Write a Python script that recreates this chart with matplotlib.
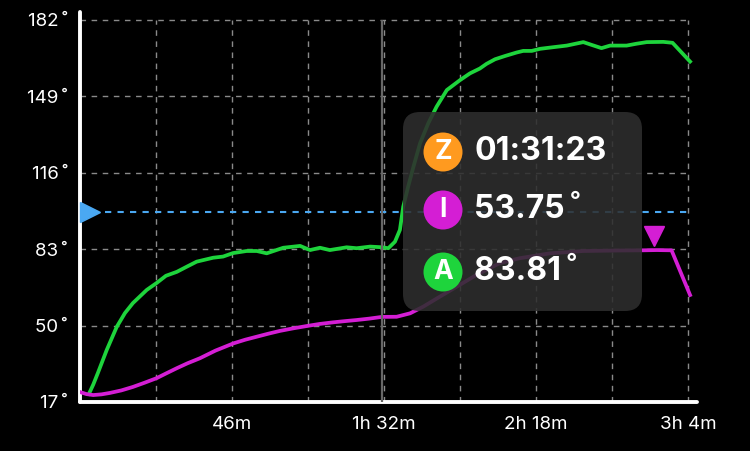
import matplotlib
matplotlib.use('Agg')
import matplotlib.pyplot as plt
from matplotlib.patches import FancyBboxPatch, Circle
from matplotlib.transforms import IdentityTransform, ScaledTranslation

plt.rcParams['font.family'] = ['Inter', 'DejaVu Sans']

# time in minutes, values in degrees
green_t = [2.7, 4.0, 5.4, 8.1, 11.1, 13.6, 16.0, 20.2, 23.2, 26.0, 29.3, 32.0, 35.3, 40.3,
           43.3, 46.3, 50.4, 53.5, 56.5, 61.5, 66.6, 69.6, 72.6, 75.6, 80.7, 83.7, 87.8,
           91.4, 93.3, 95.3, 96.8, 97.8, 99.3, 100.9, 102.9, 105.4, 107.9, 111.0, 115.0,
           118.0, 121.0, 123.0, 125.6, 128.6, 132.1, 134.1, 136.7, 139.2, 143.2, 147.3,
           152.3, 154.8, 157.8, 160.4, 165.4, 168.4, 171.5, 176.5, 179.3, 184.6]
green_v = [20.5, 24.5, 29.5, 39.5, 49.4, 55.4, 59.7, 65.4, 68.4, 71.5, 73.2, 75.2, 77.6, 79.3,
           79.8, 81.3, 82.2, 82.2, 81.2, 83.6, 84.4, 82.6, 83.6, 82.6, 83.8, 83.4, 84.1,
           83.81, 83.4, 86.2, 91.3, 101.3, 110.0, 118.6, 128.7, 137.4, 144.5, 151.7, 156.0,
           158.9, 161.0, 163.0, 165.0, 166.4, 167.9, 168.6, 168.6, 169.5, 170.2, 170.9,
           172.4, 171.2, 169.8, 170.9, 170.9, 171.7, 172.4, 172.5, 172.1, 164.0]

magenta_t = [0, 2, 4, 6.5, 9, 12.5, 16, 19.5, 23.2, 26, 29.3, 32.5, 36.3, 41, 46.4, 50,
             53.5, 57, 60.5, 64.5, 68.6, 72.5, 76.6, 80, 83.7, 87.5, 91.4, 95.8, 99.9,
             103.9, 108.9, 114, 120, 127.1, 133.1, 142.2, 152.3, 162.4, 170.5, 174.5,
             179, 184.6]
magenta_v = [21.3, 20.4, 20.0, 20.3, 20.9, 22.0, 23.5, 25.3, 27.3, 29.3, 31.6, 33.7, 35.9,
             39.2, 42.3, 43.9, 45.2, 46.5, 47.7, 48.8, 49.8, 50.7, 51.4, 51.9, 52.4, 53.0,
             53.75, 53.8, 55.3, 58.2, 62.5, 66.8, 71.9, 77.0, 79.1, 81.2, 82.2, 82.4, 82.5,
             82.6, 82.5, 63.2]

threshold = 99.0
cursor_t = 91.383
y_ticks = [17, 50, 83, 116, 149, 182]
x_ticks = [46, 92, 138, 184]
x_labels = ['46m', '1h 32m', '2h 18m', '3h 4m']
x_grid = [23, 46, 69, 92, 115, 138, 161, 184]

tip_letters = ['Z', 'I', 'A']
tip_texts = ['01:31:23', '53.75\u2009\u02da', '83.81\u2009\u02da']
tip_colors = ['#FF9A1F', '#D41ED4', '#1ED43C']

GREEN = '#1ED43C'
MAGENTA = '#D41ED4'
BLUE = '#4AA8F2'

fig = plt.figure(figsize=(7.5, 4.51), dpi=100, facecolor='black')
ax = fig.add_axes([80 / 750, 49 / 451, 617 / 750, 390 / 451])
ax.set_facecolor('black')
ax.set_xlim(0, 186.7)
ax.set_ylim(17, 185.4)

# grid box
ax.vlines(x_grid, 17, 182, colors='#8a8a8a', linestyles=(0, (4, 4)), linewidth=1, zorder=1)
ax.hlines(y_ticks[1:], 0, 184, colors='#8a8a8a', linestyles=(0, (4, 4)), linewidth=1, zorder=1)

# threshold line with marker on the axis
ax.hlines(threshold, 0, 184, colors=BLUE, linestyles=(0, (3, 3)), linewidth=1.5, zorder=2)
off = ScaledTranslation(7.5 / 72, 0, fig.dpi_scale_trans)
ax.plot([0], [threshold], marker='>', color=BLUE, markersize=15, clip_on=False,
        transform=ax.transData + off, zorder=5)

ax.plot(green_t, green_v, color=GREEN, linewidth=2.7, solid_joinstyle='round', zorder=3)
ax.plot(magenta_t, magenta_v, color=MAGENTA, linewidth=2.7, solid_joinstyle='round', zorder=3)

# max marker on magenta
imax = magenta_v.index(max(magenta_v))
off_up = ScaledTranslation(-2 / 72, 10 / 72, fig.dpi_scale_trans)
ax.plot([magenta_t[imax]], [magenta_v[imax]], marker='v', color=MAGENTA, markersize=15,
        transform=ax.transData + off_up, zorder=4)

# cursor line
ax.vlines(cursor_t, 17, 182, colors='#666666', linewidth=1.6, zorder=4)

for s in ['top', 'right']:
    ax.spines[s].set_visible(False)
for s in ['left', 'bottom']:
    ax.spines[s].set_color('white')
    ax.spines[s].set_linewidth(2.8)
    ax.spines[s].set_capstyle('round')

ax.set_yticks(y_ticks)
ax.set_yticklabels([f'{v}\u2009\u02da' for v in y_ticks])
ax.set_xticks(x_ticks)
ax.set_xticklabels(x_labels)
ax.tick_params(colors='white', labelsize=13.5, length=0)
ax.tick_params(axis='y', pad=9)
ax.tick_params(axis='x', pad=10)

# tooltip (pixel coordinates)
H = 451
box = FancyBboxPatch((403, H - 311), 239, 199, boxstyle='round,pad=0,rounding_size=17',
                     transform=IdentityTransform(), facecolor='#2e2e2e', edgecolor='none',
                     alpha=0.88, zorder=10)
fig.patches.append(box)
row_y = [H - 152, H - 210, H - 272]
for ry, letter, txt, c in zip(row_y, tip_letters, tip_texts, tip_colors):
    fig.patches.append(Circle((443, ry), 19.5, transform=IdentityTransform(),
                              facecolor=c, edgecolor='none', zorder=11))
    fig.text(443, ry, letter, transform=IdentityTransform(), color='white', fontsize=19,
             fontweight='bold', ha='center', va='center', zorder=12)
    fig.text(474, ry, txt, transform=IdentityTransform(), color='white', fontsize=23,
             fontweight='bold', ha='left', va='center', zorder=12)

fig.savefig('out.png', dpi=100, facecolor='black')
